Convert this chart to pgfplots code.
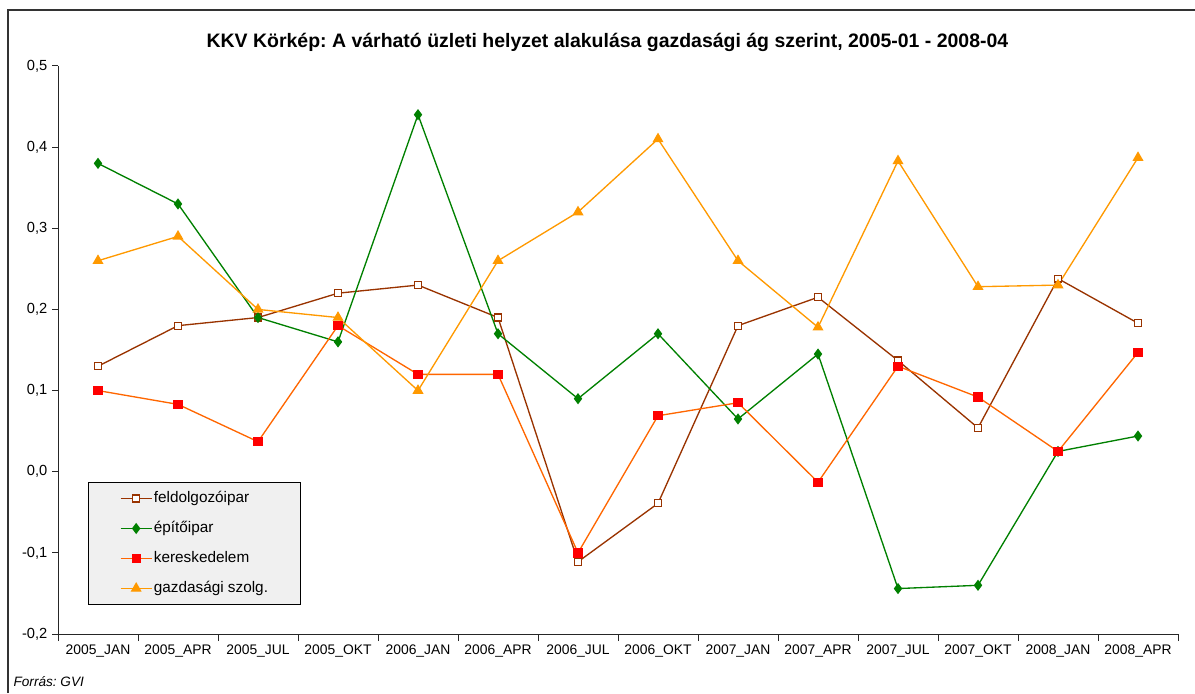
\documentclass[border=0pt]{standalone}
\usepackage{fontspec}
\setmainfont{Liberation Sans}
\usepackage{pgfplots}
\pgfplotsset{compat=1.18}
\definecolor{cFeld}{HTML}{993300}
\definecolor{cEpit}{HTML}{008000}
\definecolor{cKerL}{HTML}{FF6600}
\definecolor{cKerM}{HTML}{FF0000}
\definecolor{cGaz}{HTML}{FF9900}
\definecolor{legfill}{HTML}{F0F0F0}
\frenchspacing
\begin{document}
\begin{tikzpicture}
\path[use as bounding box] (0,0) rectangle (896.25pt,519.75pt);
\draw[line width=1.5pt, black!80] (6pt,0) -- (6pt,512.25pt) -- (896.25pt,512.25pt);
\node[font=\bfseries\fontsize{14.6}{17}\selectfont] at (455.6pt,488.25pt) {KKV Körkép: A várható üzleti helyzet alakulása gazdasági ág szerint, 2005-01 - 2008-04};
\node[font=\itshape\fontsize{10.2}{12}\selectfont, anchor=west, inner sep=0pt] at (10pt,8.25pt) {Forrás: GVI};
\begin{axis}[
  at={(43.5pt,44.25pt)}, anchor=south west,
  scale only axis, width=840pt, height=426pt,
  xmin=-0.5, xmax=13.5, ymin=-0.2, ymax=0.5,
  axis x line=bottom, axis y line=left,
  axis line style={-, black!85, line width=0.75pt},
  tick align=outside,
  major tick length=4.5pt,
  minor tick length=5.25pt,
  every tick/.style={black!85, line width=0.75pt},
  xtick={0,...,13},
  major x tick style={draw=none},
  minor xtick={-0.5,0.5,...,13.5},
  xticklabels={2005\_JAN,2005\_APR,2005\_JUL,2005\_OKT,2006\_JAN,2006\_APR,2006\_JUL,2006\_OKT,2007\_JAN,2007\_APR,2007\_JUL,2007\_OKT,2008\_JAN,2008\_APR},
  ytick={-0.2,-0.1,0,0.1,0.2,0.3,0.4,0.5},
  yticklabel style={font=\fontsize{11}{13}\selectfont, /pgf/number format/.cd, fixed, fixed zerofill, precision=1, use comma},
  /pgf/number format/assume math mode=true,
  xticklabel style={font=\fontsize{10.4}{12}\selectfont},
  legend style={at={(axis description cs:0.0268,0.0511)}, anchor=south west,
    fill=legfill, draw=black, line width=0.75pt,
    font=\fontsize{11.5}{13}\selectfont,
    nodes={inner sep=1pt, text height=8.5pt, text depth=2.5pt},
    row sep=9.5pt, inner xsep=23.5pt, inner ysep=5.5pt},
  legend cell align=left,
  legend image code/.code={\draw[mark repeat=2,mark phase=2] plot coordinates {(0pt,0pt) (11.75pt,0pt) (23.5pt,0pt)};},
]
\addplot[cFeld, line width=1pt, mark=square*, mark size=2.6pt, mark options={solid, fill=white, draw=cFeld, line width=0.9pt}] coordinates {
(0,0.13) (1,0.18) (2,0.19) (3,0.22) (4,0.23) (5,0.19) (6,-0.111) (7,-0.039) (8,0.18) (9,0.215) (10,0.137) (11,0.054) (12,0.238) (13,0.183)};
\addlegendentry{feldolgozóipar}
\addplot[cEpit, line width=1pt, mark=diamond*, mark size=3.4pt, mark options={solid, fill=cEpit, draw=cEpit}] coordinates {
(0,0.38) (1,0.33) (2,0.19) (3,0.16) (4,0.44) (5,0.17) (6,0.09) (7,0.17) (8,0.065) (9,0.145) (10,-0.144) (11,-0.14) (12,0.025) (13,0.044)};
\addlegendentry{építőipar}
\addplot[cKerL, line width=1pt, mark=square*, mark size=3pt, mark options={solid, fill=cKerM, draw=cKerM}] coordinates {
(0,0.1) (1,0.083) (2,0.037) (3,0.18) (4,0.12) (5,0.12) (6,-0.1) (7,0.069) (8,0.085) (9,-0.013) (10,0.13) (11,0.092) (12,0.025) (13,0.147)};
\addlegendentry{kereskedelem}
\addplot[cGaz, line width=1pt, mark=triangle*, mark size=3.8pt, mark options={solid, fill=cGaz, draw=cGaz}] coordinates {
(0,0.26) (1,0.29) (2,0.2) (3,0.19) (4,0.1) (5,0.26) (6,0.32) (7,0.41) (8,0.26) (9,0.178) (10,0.383) (11,0.228) (12,0.23) (13,0.387)};
\addlegendentry{gazdasági szolg.}
\end{axis}
\end{tikzpicture}
\end{document}
